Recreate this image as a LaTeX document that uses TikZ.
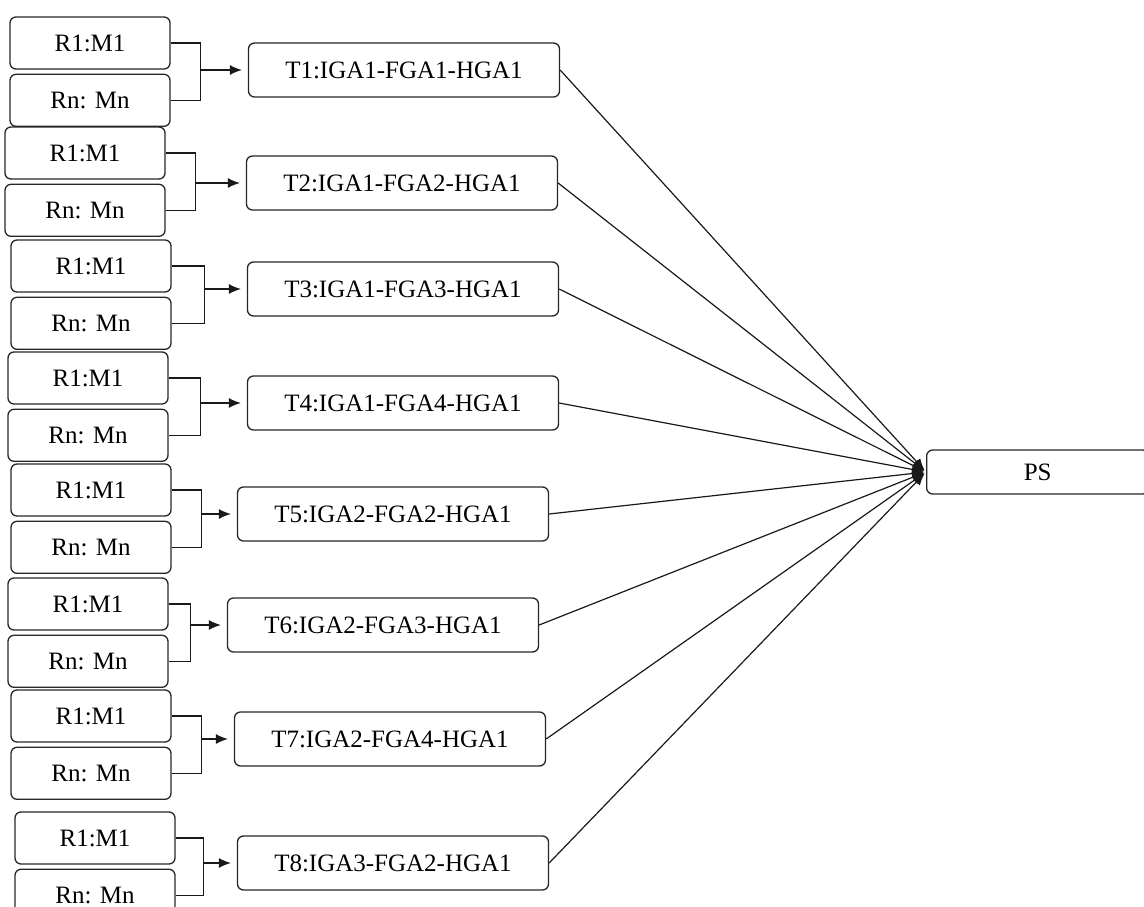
\documentclass[tikz,border=0pt]{standalone}
\usepackage{fontspec}
\setmainfont{Liberation Serif}
\usetikzlibrary{arrows.meta,positioning}

\tikzset{
  box/.style={draw=black!85, rounded corners=6pt, line width=1.3pt, inner sep=0pt,
    font=\fontsize{25}{29}\selectfont},
  rbox/.style={box, minimum width=160pt, minimum height=52pt},
  tbox/.style={box, minimum width=311pt, minimum height=54pt},
  link/.style={line width=1.2pt, draw=black!90},
}

\begin{document}
\begin{tikzpicture}[x=1pt,y=-1pt]
\useasboundingbox (0,0) rectangle (1144,907);

% request groups and their tasks
\foreach \k/\rx/\ry/\bw/\tx/\ty/\lab in {
  1/90/43/30/404/70/IGA1-FGA1-HGA1,
  2/85/153/30/402/183/IGA1-FGA2-HGA1,
  3/91/266/33/403/289/IGA1-FGA3-HGA1,
  4/88/378/32/403/403/IGA1-FGA4-HGA1,
  5/91/490/30/393/514/IGA2-FGA2-HGA1,
  6/88/604/22/383/625/IGA2-FGA3-HGA1,
  7/91/716/30/390/739/IGA2-FGA4-HGA1,
  8/95/838/28/393/863/IGA3-FGA2-HGA1} {
  \node[rbox] (r\k) at (\rx,\ry) {R1:M1};
  \node[rbox, below=4pt of r\k] (n\k) {Rn: Mn};
  \node[tbox] (t\k) at (\tx,\ty) {T\k:\lab};
  \draw[link] (r\k.east) -- ++(\bw,0) coordinate (c\k) |- (n\k.east);
  \draw[link, -{Latex[length=12pt,width=10pt]}, shorten >=6pt] (c\k |- t\k.west) -- (t\k.west);
}

\node[box, minimum width=222pt, minimum height=44pt, anchor=west] (ps) at (926,472) {PS};

\foreach \k in {1,...,8}
  \draw[link, -{Latex[length=12pt,width=10pt]}, shorten >=2pt] (t\k.east) -- (ps.west);
\end{tikzpicture}
\end{document}
